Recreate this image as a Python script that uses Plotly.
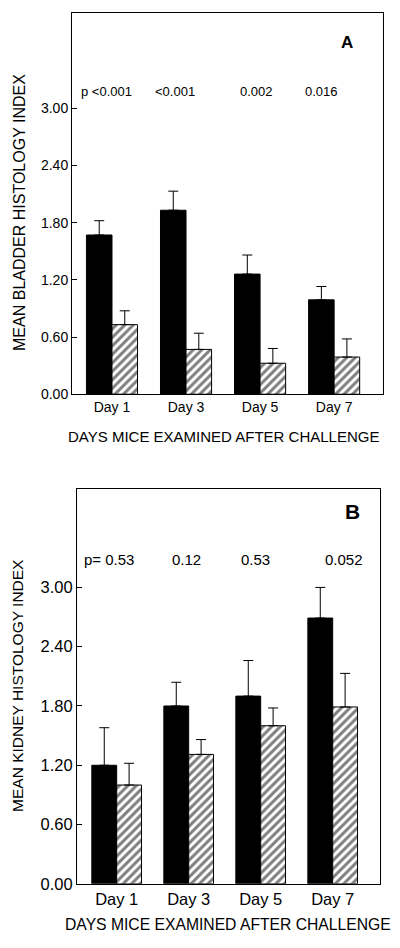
import plotly.graph_objects as go

days = ["Day 1", "Day 3", "Day 5", "Day 7"]
xpos = [0, 1, 2, 3]

bladder_black = [1.67, 1.93, 1.26, 0.99]
bladder_black_err = [0.15, 0.20, 0.20, 0.14]
bladder_hatch = [0.73, 0.47, 0.325, 0.39]
bladder_hatch_err = [0.145, 0.17, 0.155, 0.19]

kidney_black = [1.20, 1.80, 1.90, 2.69]
kidney_black_err = [0.38, 0.24, 0.36, 0.31]
kidney_hatch = [1.00, 1.31, 1.60, 1.79]
kidney_hatch_err = [0.22, 0.15, 0.18, 0.34]

bladder_p = ["p <0.001", "<0.001", "0.002", "0.016"]
kidney_p = ["p= 0.53", "0.12", "0.53", "0.052"]

ytick_vals = [0.0, 0.6, 1.2, 1.8, 2.4, 3.0]
ytick_text = ["0.00", "0.60", "1.20", "1.80", "2.40", "3.00"]

FONT = "Liberation Sans, Arial, Helvetica, sans-serif"

fig = go.Figure()


def add_pair(black, black_err, hatch, hatch_err, xa, ya):
    fig.add_trace(go.Bar(
        x=xpos, y=black, xaxis=xa, yaxis=ya, showlegend=False,
        marker=dict(color="black", line=dict(color="black", width=1)),
        error_y=dict(type="data", symmetric=False, array=black_err,
                     arrayminus=[0] * len(black), color="black",
                     thickness=1, width=5),
    ))
    fig.add_trace(go.Bar(
        x=xpos, y=hatch, xaxis=xa, yaxis=ya, showlegend=False,
        marker=dict(color="white", line=dict(color="black", width=1),
                    pattern=dict(shape="/", fgcolor="black", bgcolor="white",
                                 size=6, solidity=0.5)),
        error_y=dict(type="data", symmetric=False, array=hatch_err,
                     arrayminus=[0] * len(hatch), color="black",
                     thickness=1, width=5),
    ))


add_pair(bladder_black, bladder_black_err, bladder_hatch, bladder_hatch_err, "x", "y")
add_pair(kidney_black, kidney_black_err, kidney_hatch, kidney_hatch_err, "x2", "y2")

H = 948.0
W = 400.0


def ydom(top_px, bot_px):
    return [1 - bot_px / H, 1 - top_px / H]


common_x = dict(showline=True, mirror=True, linecolor="black", linewidth=1,
                ticks="", showgrid=False, zeroline=False,
                tickvals=xpos, ticktext=days)
common_y = dict(showline=True, mirror=True, linecolor="black", linewidth=1,
                ticks="inside", ticklen=5, tickcolor="black", tickwidth=1,
                showgrid=False, zeroline=False, range=[0, 4.0],
                tickvals=ytick_vals, ticktext=ytick_text)

fig.update_layout(
    width=400, height=948,
    margin=dict(l=0, r=0, t=0, b=0),
    paper_bgcolor="white", plot_bgcolor="white",
    barmode="group", bargap=0.31, bargroupgap=0,
    font=dict(family=FONT, color="black"),
    xaxis=dict(**common_x, domain=[72 / W, 383 / W], range=[-0.54, 3.66],
               anchor="y", tickfont=dict(size=14)),
    yaxis=dict(**common_y, domain=ydom(13, 398), anchor="x",
               tickfont=dict(size=14)),
    xaxis2=dict(**common_x, domain=[77 / W, 380 / W], range=[-0.551, 3.657],
                anchor="y2", tickfont=dict(size=16.5)),
    yaxis2=dict(**common_y, domain=ydom(493.3, 892.3), anchor="x2",
                tickfont=dict(size=16.5)),
)

ann = []
# p-values
top_p_x = [-0.446, 0.554, 1.70, 2.58]
for xv, t in zip(top_p_x, bladder_p):
    ann.append(dict(x=xv, y=3.18, xref="x", yref="y", text=t, showarrow=False,
                    xanchor="left", yanchor="middle", font=dict(size=13)))
bot_p_x = [-0.48, 0.74, 1.70, 2.87]
for xv, t in zip(bot_p_x, kidney_p):
    ann.append(dict(x=xv, y=3.28, xref="x2", yref="y2", text=t, showarrow=False,
                    xanchor="left", yanchor="middle", font=dict(size=15)))
# panel letters
ann.append(dict(x=3.17, y=3.69, xref="x", yref="y", text="<b>A</b>", showarrow=False,
                xanchor="center", yanchor="middle", font=dict(size=17)))
ann.append(dict(x=3.27, y=3.77, xref="x2", yref="y2", text="<b>B</b>", showarrow=False,
                xanchor="center", yanchor="middle", font=dict(size=21)))
# axis titles
ann.append(dict(x=20 / W, y=1 - 215 / H, xref="paper", yref="paper",
                text="MEAN BLADDER HISTOLOGY INDEX", textangle=-90, showarrow=False,
                xanchor="center", yanchor="middle", font=dict(size=16)))
ann.append(dict(x=18 / W, y=1 - 692.5 / H, xref="paper", yref="paper",
                text="MEAN KIDNEY HISTOLOGY INDEX", textangle=-90, showarrow=False,
                xanchor="center", yanchor="middle", font=dict(size=15.5)))
ann.append(dict(x=223.5 / W, y=1 - 440.7 / H, xref="paper", yref="paper",
                text="DAYS MICE EXAMINED AFTER CHALLENGE", showarrow=False,
                xanchor="center", yanchor="middle", font=dict(size=15)))
ann.append(dict(x=227.5 / W, y=1 - 933 / H, xref="paper", yref="paper",
                text="DAYS MICE EXAMINED AFTER CHALLENGE", showarrow=False,
                xanchor="center", yanchor="middle", font=dict(size=15.7)))
fig.update_layout(annotations=ann)

fig.write_html(
    "out.html",
    config={"displayModeBar": False},
    post_script="document.body.style.margin='0';document.body.style.overflow='hidden';",
)
